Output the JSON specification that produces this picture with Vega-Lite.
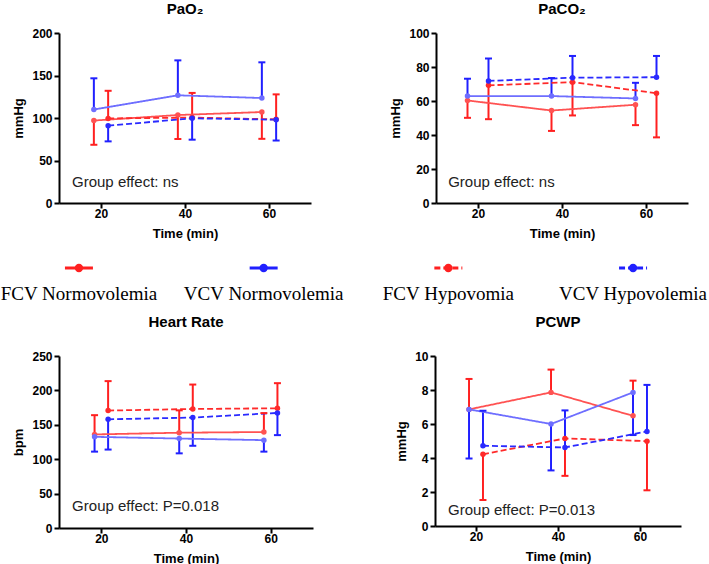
{
  "$schema": "https://vega.github.io/schema/vega-lite/v6.json",
  "padding": {"left": 0, "top": 2, "right": 0, "bottom": 0},
  "data": {"values": [
    {"panel": "PaO2", "group": "FCV Normovolemia", "t": 18.3, "mean": 97, "err": 68.5},
    {"panel": "PaO2", "group": "FCV Normovolemia", "t": 38.3, "mean": 103.5, "err": 75.3},
    {"panel": "PaO2", "group": "FCV Normovolemia", "t": 58.3, "mean": 107, "err": 75.5},
    {"panel": "PaO2", "group": "VCV Normovolemia", "t": 18.3, "mean": 110, "err": 146.7},
    {"panel": "PaO2", "group": "VCV Normovolemia", "t": 38.3, "mean": 126.7, "err": 167.8},
    {"panel": "PaO2", "group": "VCV Normovolemia", "t": 58.3, "mean": 123.5, "err": 165.5},
    {"panel": "PaO2", "group": "FCV Hypovomia", "t": 21.7, "mean": 99.5, "err": 132},
    {"panel": "PaO2", "group": "FCV Hypovomia", "t": 41.7, "mean": 100.5, "err": 129.5},
    {"panel": "PaO2", "group": "FCV Hypovomia", "t": 61.7, "mean": 98.4, "err": 127.8},
    {"panel": "PaO2", "group": "VCV Hypovolemia", "t": 21.7, "mean": 91, "err": 72.5},
    {"panel": "PaO2", "group": "VCV Hypovolemia", "t": 41.7, "mean": 99.6, "err": 74.5},
    {"panel": "PaO2", "group": "VCV Hypovolemia", "t": 61.7, "mean": 98, "err": 73.5},

    {"panel": "PaCO2", "group": "FCV Normovolemia", "t": 17.5, "mean": 60.3, "err": 50.1},
    {"panel": "PaCO2", "group": "FCV Normovolemia", "t": 37.5, "mean": 54.4, "err": 42.4},
    {"panel": "PaCO2", "group": "FCV Normovolemia", "t": 57.5, "mean": 57.8, "err": 45.8},
    {"panel": "PaCO2", "group": "VCV Normovolemia", "t": 17.5, "mean": 62.9, "err": 73.1},
    {"panel": "PaCO2", "group": "VCV Normovolemia", "t": 37.5, "mean": 62.9, "err": 73.5},
    {"panel": "PaCO2", "group": "VCV Normovolemia", "t": 57.5, "mean": 61.5, "err": 70.7},
    {"panel": "PaCO2", "group": "FCV Hypovomia", "t": 22.5, "mean": 69.2, "err": 49.3},
    {"panel": "PaCO2", "group": "FCV Hypovomia", "t": 42.5, "mean": 71.1, "err": 51.5},
    {"panel": "PaCO2", "group": "FCV Hypovomia", "t": 62.5, "mean": 64.6, "err": 38.6},
    {"panel": "PaCO2", "group": "VCV Hypovolemia", "t": 22.5, "mean": 71.8, "err": 85},
    {"panel": "PaCO2", "group": "VCV Hypovolemia", "t": 42.5, "mean": 73.7, "err": 86.5},
    {"panel": "PaCO2", "group": "VCV Hypovolemia", "t": 62.5, "mean": 74, "err": 86.5},

    {"panel": "HR", "group": "FCV Normovolemia", "t": 18.4, "mean": 136, "err": 164},
    {"panel": "HR", "group": "FCV Normovolemia", "t": 38.4, "mean": 138.5, "err": 171},
    {"panel": "HR", "group": "FCV Normovolemia", "t": 58.4, "mean": 139.5, "err": 167},
    {"panel": "HR", "group": "VCV Normovolemia", "t": 18.4, "mean": 132.5, "err": 111},
    {"panel": "HR", "group": "VCV Normovolemia", "t": 38.4, "mean": 130, "err": 108.5},
    {"panel": "HR", "group": "VCV Normovolemia", "t": 58.4, "mean": 127.7, "err": 111},
    {"panel": "HR", "group": "FCV Hypovomia", "t": 21.6, "mean": 170.7, "err": 213.5},
    {"panel": "HR", "group": "FCV Hypovomia", "t": 41.6, "mean": 173, "err": 208.5},
    {"panel": "HR", "group": "FCV Hypovomia", "t": 61.6, "mean": 174, "err": 210.5},
    {"panel": "HR", "group": "VCV Hypovolemia", "t": 21.6, "mean": 158, "err": 114},
    {"panel": "HR", "group": "VCV Hypovolemia", "t": 41.6, "mean": 160.5, "err": 119.5},
    {"panel": "HR", "group": "VCV Hypovolemia", "t": 61.6, "mean": 167.3, "err": 135},

    {"panel": "PCWP", "group": "FCV Normovolemia", "t": 18.3, "mean": 6.86, "err": 8.65},
    {"panel": "PCWP", "group": "FCV Normovolemia", "t": 38.3, "mean": 7.86, "err": 9.2},
    {"panel": "PCWP", "group": "FCV Normovolemia", "t": 58.3, "mean": 6.48, "err": 8.55},
    {"panel": "PCWP", "group": "VCV Normovolemia", "t": 18.3, "mean": 6.86, "err": 3.97},
    {"panel": "PCWP", "group": "VCV Normovolemia", "t": 38.3, "mean": 6.0, "err": 3.27},
    {"panel": "PCWP", "group": "VCV Normovolemia", "t": 58.3, "mean": 7.86, "err": 5.35},
    {"panel": "PCWP", "group": "FCV Hypovomia", "t": 21.7, "mean": 4.22, "err": 1.53},
    {"panel": "PCWP", "group": "FCV Hypovomia", "t": 41.7, "mean": 5.15, "err": 2.95},
    {"panel": "PCWP", "group": "FCV Hypovomia", "t": 61.7, "mean": 4.99, "err": 2.1},
    {"panel": "PCWP", "group": "VCV Hypovolemia", "t": 21.7, "mean": 4.72, "err": 6.78},
    {"panel": "PCWP", "group": "VCV Hypovolemia", "t": 41.7, "mean": 4.62, "err": 6.8},
    {"panel": "PCWP", "group": "VCV Hypovolemia", "t": 61.7, "mean": 5.56, "err": 8.3}
  ]},
  "spacing": 22,
  "vconcat": [
    {
      "bounds": "flush",
      "spacing": 125,
      "hconcat": [
        {
          "width": 252, "height": 170,
          "title": {"text": "PaO₂", "offset": 10},
          "layer": [
            {
              "transform": [{"filter": "datum.panel === 'PaO2'"}],
              "encoding": {
                "x": {"field": "t", "type": "quantitative", "scale": {"domain": [10, 70], "nice": false}, "axis": {"values": [20, 40, 60], "tickCount": 10, "title": "Time (min)"}},
                "y": {"field": "mean", "type": "quantitative", "scale": {"domain": [0, 200], "nice": false}, "axis": {"values": [0, 50, 100, 150, 200], "tickCount": 10, "title": "mmHg"}}
              },
              "layer": [
                {"mark": {"type": "rule", "strokeWidth": 2}, "encoding": {"y2": {"field": "err"}, "stroke": {"field": "group", "type": "nominal", "legend": null, "scale": {"domain": ["FCV Normovolemia", "VCV Normovolemia", "FCV Hypovomia", "VCV Hypovolemia"], "range": ["#FF2020", "#2020FF", "#FF2020", "#2020FF"]}}}},
                {"mark": {"type": "line", "strokeWidth": 1.8}, "encoding": {"color": {"field": "group", "type": "nominal", "legend": null, "scale": {"domain": ["FCV Normovolemia", "VCV Normovolemia", "FCV Hypovomia", "VCV Hypovolemia"], "range": ["#FF5252", "#6E6EFF", "#FF2A2A", "#2A2AFF"]}}, "strokeDash": {"field": "group", "type": "nominal", "legend": null, "scale": {"domain": ["FCV Normovolemia", "VCV Normovolemia", "FCV Hypovomia", "VCV Hypovolemia"], "range": [[1, 0], [1, 0], [6, 3], [6, 3]]}}}},
                {"mark": {"type": "tick", "orient": "horizontal", "size": 7, "thickness": 2, "opacity": 1}, "encoding": {"y": {"field": "err", "type": "quantitative", "scale": {"domain": [0, 200], "nice": false}, "axis": {"values": [0, 50, 100, 150, 200], "tickCount": 10, "title": "mmHg"}}, "fill": {"field": "group", "type": "nominal", "legend": null, "scale": {"domain": ["FCV Normovolemia", "VCV Normovolemia", "FCV Hypovomia", "VCV Hypovolemia"], "range": ["#FF2020", "#2020FF", "#FF2020", "#2020FF"]}}}},
                {"mark": {"type": "circle", "size": 30, "opacity": 1}, "encoding": {"color": {"field": "group", "type": "nominal", "legend": null, "scale": {"domain": ["FCV Normovolemia", "VCV Normovolemia", "FCV Hypovomia", "VCV Hypovolemia"], "range": ["#FF5252", "#6E6EFF", "#FF2A2A", "#2A2AFF"]}}}}
              ]
            },
            {
              "data": {"values": [{"note": "Group effect: ns"}]},
              "mark": {"type": "text", "align": "left", "baseline": "middle", "font": "Liberation Sans", "fontSize": 15, "color": "#222222"},
              "encoding": {"x": {"datum": 13.1, "type": "quantitative"}, "y": {"datum": 25, "type": "quantitative"}, "text": {"field": "note"}}
            }
          ]
        },
        {
          "width": 252, "height": 170,
          "title": {"text": "PaCO₂", "offset": 10},
          "layer": [
            {
              "transform": [{"filter": "datum.panel === 'PaCO2'"}],
              "encoding": {
                "x": {"field": "t", "type": "quantitative", "scale": {"domain": [10, 70], "nice": false}, "axis": {"values": [20, 40, 60], "tickCount": 10, "title": "Time (min)"}},
                "y": {"field": "mean", "type": "quantitative", "scale": {"domain": [0, 100], "nice": false}, "axis": {"values": [0, 20, 40, 60, 80, 100], "tickCount": 10, "title": "mmHg"}}
              },
              "layer": [
                {"mark": {"type": "rule", "strokeWidth": 2}, "encoding": {"y2": {"field": "err"}, "stroke": {"field": "group", "type": "nominal", "legend": null, "scale": {"domain": ["FCV Normovolemia", "VCV Normovolemia", "FCV Hypovomia", "VCV Hypovolemia"], "range": ["#FF2020", "#2020FF", "#FF2020", "#2020FF"]}}}},
                {"mark": {"type": "line", "strokeWidth": 1.8}, "encoding": {"color": {"field": "group", "type": "nominal", "legend": null, "scale": {"domain": ["FCV Normovolemia", "VCV Normovolemia", "FCV Hypovomia", "VCV Hypovolemia"], "range": ["#FF5252", "#6E6EFF", "#FF2A2A", "#2A2AFF"]}}, "strokeDash": {"field": "group", "type": "nominal", "legend": null, "scale": {"domain": ["FCV Normovolemia", "VCV Normovolemia", "FCV Hypovomia", "VCV Hypovolemia"], "range": [[1, 0], [1, 0], [6, 3], [6, 3]]}}}},
                {"mark": {"type": "tick", "orient": "horizontal", "size": 7, "thickness": 2, "opacity": 1}, "encoding": {"y": {"field": "err", "type": "quantitative", "scale": {"domain": [0, 100], "nice": false}, "axis": {"values": [0, 20, 40, 60, 80, 100], "tickCount": 10, "title": "mmHg"}}, "fill": {"field": "group", "type": "nominal", "legend": null, "scale": {"domain": ["FCV Normovolemia", "VCV Normovolemia", "FCV Hypovomia", "VCV Hypovolemia"], "range": ["#FF2020", "#2020FF", "#FF2020", "#2020FF"]}}}},
                {"mark": {"type": "circle", "size": 30, "opacity": 1}, "encoding": {"color": {"field": "group", "type": "nominal", "legend": null, "scale": {"domain": ["FCV Normovolemia", "VCV Normovolemia", "FCV Hypovomia", "VCV Hypovolemia"], "range": ["#FF5252", "#6E6EFF", "#FF2A2A", "#2A2AFF"]}}}}
              ]
            },
            {
              "data": {"values": [{"note": "Group effect: ns"}]},
              "mark": {"type": "text", "align": "left", "baseline": "middle", "font": "Liberation Sans", "fontSize": 15, "color": "#222222"},
              "encoding": {"x": {"datum": 12.9, "type": "quantitative"}, "y": {"datum": 12.4, "type": "quantitative"}, "text": {"field": "note"}}
            }
          ]
        }
      ]
    },
    {
      "spacing": 11,
      "vconcat": [
        {
          "width": 594, "height": 26,
          "data": {"values": [
            {"group": "FCV Normovolemia"},
            {"group": "VCV Normovolemia"},
            {"group": "FCV Hypovomia"},
            {"group": "VCV Hypovolemia"}
          ]},
          "encoding": {
            "x": {"field": "group", "type": "nominal", "scale": {"type": "point", "domain": ["FCV Normovolemia", "VCV Normovolemia", "FCV Hypovomia", "VCV Hypovolemia"], "padding": 0.108}, "axis": null}
          },
          "layer": [
            {"mark": {"type": "point", "shape": "M-1,0L1,0", "filled": false, "strokeWidth": 3, "size": 784, "opacity": 1},
             "encoding": {"y": {"datum": 1, "type": "quantitative", "scale": {"domain": [0, 1]}, "axis": null}, "stroke": {"field": "group", "type": "nominal", "legend": null, "scale": {"domain": ["FCV Normovolemia", "VCV Normovolemia", "FCV Hypovomia", "VCV Hypovolemia"], "range": ["#FF2020", "#2020FF", "#FF2020", "#2020FF"]}}, "strokeDash": {"field": "group", "type": "nominal", "legend": null, "scale": {"domain": ["FCV Normovolemia", "VCV Normovolemia", "FCV Hypovomia", "VCV Hypovolemia"], "range": [[1, 0], [1, 0], [6, 3], [6, 3]]}}}},
            {"mark": {"type": "circle", "size": 70, "opacity": 1},
             "encoding": {"y": {"datum": 1, "type": "quantitative"}, "fill": {"field": "group", "type": "nominal", "legend": null, "scale": {"domain": ["FCV Normovolemia", "VCV Normovolemia", "FCV Hypovomia", "VCV Hypovolemia"], "range": ["#FF2020", "#2020FF", "#FF2020", "#2020FF"]}}}},
            {"mark": {"type": "text", "font": "Liberation Serif", "fontSize": 19, "baseline": "middle", "align": "center", "color": "black"},
             "encoding": {"y": {"datum": 0, "type": "quantitative"}, "text": {"field": "group"}}}
          ]
        },
        {
          "bounds": "flush",
          "spacing": 122,
          "hconcat": [
            {
              "width": 254, "height": 172,
              "title": {"text": "Heart Rate", "offset": 20},
              "layer": [
                {
                  "transform": [{"filter": "datum.panel === 'HR'"}],
                  "encoding": {
                    "x": {"field": "t", "type": "quantitative", "scale": {"domain": [10, 70], "nice": false}, "axis": {"values": [20, 40, 60], "tickCount": 10, "title": "Time (min)"}},
                    "y": {"field": "mean", "type": "quantitative", "scale": {"domain": [0, 250], "nice": false}, "axis": {"values": [0, 50, 100, 150, 200, 250], "tickCount": 10, "title": "bpm"}}
                  },
                  "layer": [
                    {"mark": {"type": "rule", "strokeWidth": 2}, "encoding": {"y2": {"field": "err"}, "stroke": {"field": "group", "type": "nominal", "legend": null, "scale": {"domain": ["FCV Normovolemia", "VCV Normovolemia", "FCV Hypovomia", "VCV Hypovolemia"], "range": ["#FF2020", "#2020FF", "#FF2020", "#2020FF"]}}}},
                    {"mark": {"type": "line", "strokeWidth": 1.8}, "encoding": {"color": {"field": "group", "type": "nominal", "legend": null, "scale": {"domain": ["FCV Normovolemia", "VCV Normovolemia", "FCV Hypovomia", "VCV Hypovolemia"], "range": ["#FF5252", "#6E6EFF", "#FF2A2A", "#2A2AFF"]}}, "strokeDash": {"field": "group", "type": "nominal", "legend": null, "scale": {"domain": ["FCV Normovolemia", "VCV Normovolemia", "FCV Hypovomia", "VCV Hypovolemia"], "range": [[1, 0], [1, 0], [6, 3], [6, 3]]}}}},
                    {"mark": {"type": "tick", "orient": "horizontal", "size": 7, "thickness": 2, "opacity": 1}, "encoding": {"y": {"field": "err", "type": "quantitative", "scale": {"domain": [0, 250], "nice": false}, "axis": {"values": [0, 50, 100, 150, 200, 250], "tickCount": 10, "title": "bpm"}}, "fill": {"field": "group", "type": "nominal", "legend": null, "scale": {"domain": ["FCV Normovolemia", "VCV Normovolemia", "FCV Hypovomia", "VCV Hypovolemia"], "range": ["#FF2020", "#2020FF", "#FF2020", "#2020FF"]}}}},
                    {"mark": {"type": "circle", "size": 30, "opacity": 1}, "encoding": {"color": {"field": "group", "type": "nominal", "legend": null, "scale": {"domain": ["FCV Normovolemia", "VCV Normovolemia", "FCV Hypovomia", "VCV Hypovolemia"], "range": ["#FF5252", "#6E6EFF", "#FF2A2A", "#2A2AFF"]}}}}
                  ]
                },
                {
                  "data": {"values": [{"note": "Group effect: P=0.018"}]},
                  "mark": {"type": "text", "align": "left", "baseline": "middle", "font": "Liberation Sans", "fontSize": 15, "color": "#222222"},
                  "encoding": {"x": {"datum": 13.1, "type": "quantitative"}, "y": {"datum": 32, "type": "quantitative"}, "text": {"field": "note"}}
                }
              ]
            },
            {
              "width": 246, "height": 170,
              "title": {"text": "PCWP", "offset": 20},
              "layer": [
                {
                  "transform": [{"filter": "datum.panel === 'PCWP'"}],
                  "encoding": {
                    "x": {"field": "t", "type": "quantitative", "scale": {"domain": [10, 70], "nice": false}, "axis": {"values": [20, 40, 60], "tickCount": 10, "title": "Time (min)"}},
                    "y": {"field": "mean", "type": "quantitative", "scale": {"domain": [0, 10], "nice": false}, "axis": {"values": [0, 2, 4, 6, 8, 10], "tickCount": 10, "title": "mmHg"}}
                  },
                  "layer": [
                    {"mark": {"type": "rule", "strokeWidth": 2}, "encoding": {"y2": {"field": "err"}, "stroke": {"field": "group", "type": "nominal", "legend": null, "scale": {"domain": ["FCV Normovolemia", "VCV Normovolemia", "FCV Hypovomia", "VCV Hypovolemia"], "range": ["#FF2020", "#2020FF", "#FF2020", "#2020FF"]}}}},
                    {"mark": {"type": "line", "strokeWidth": 1.8}, "encoding": {"color": {"field": "group", "type": "nominal", "legend": null, "scale": {"domain": ["FCV Normovolemia", "VCV Normovolemia", "FCV Hypovomia", "VCV Hypovolemia"], "range": ["#FF5252", "#6E6EFF", "#FF2A2A", "#2A2AFF"]}}, "strokeDash": {"field": "group", "type": "nominal", "legend": null, "scale": {"domain": ["FCV Normovolemia", "VCV Normovolemia", "FCV Hypovomia", "VCV Hypovolemia"], "range": [[1, 0], [1, 0], [6, 3], [6, 3]]}}}},
                    {"mark": {"type": "tick", "orient": "horizontal", "size": 7, "thickness": 2, "opacity": 1}, "encoding": {"y": {"field": "err", "type": "quantitative", "scale": {"domain": [0, 10], "nice": false}, "axis": {"values": [0, 2, 4, 6, 8, 10], "tickCount": 10, "title": "mmHg"}}, "fill": {"field": "group", "type": "nominal", "legend": null, "scale": {"domain": ["FCV Normovolemia", "VCV Normovolemia", "FCV Hypovomia", "VCV Hypovolemia"], "range": ["#FF2020", "#2020FF", "#FF2020", "#2020FF"]}}}},
                    {"mark": {"type": "circle", "size": 30, "opacity": 1}, "encoding": {"color": {"field": "group", "type": "nominal", "legend": null, "scale": {"domain": ["FCV Normovolemia", "VCV Normovolemia", "FCV Hypovomia", "VCV Hypovolemia"], "range": ["#FF5252", "#6E6EFF", "#FF2A2A", "#2A2AFF"]}}}}
                  ]
                },
                {
                  "data": {"values": [{"note": "Group effect: P=0.013"}]},
                  "mark": {"type": "text", "align": "left", "baseline": "middle", "font": "Liberation Sans", "fontSize": 15, "color": "#222222"},
                  "encoding": {"x": {"datum": 13.2, "type": "quantitative"}, "y": {"datum": 0.94, "type": "quantitative"}, "text": {"field": "note"}}
                }
              ]
            }
          ]
        }
      ]
    }
  ],
  "config": {
    "view": {"stroke": null},
    "axis": {
      "domainColor": "black", "domainWidth": 2, "tickColor": "black", "tickWidth": 2, "tickSize": 5,
      "labelFont": "Liberation Sans", "labelFontWeight": "bold", "labelFontSize": 12, "labelColor": "black",
      "titleFont": "Liberation Sans", "titleFontWeight": "bold", "titleFontSize": 13, "titleColor": "black",
      "grid": false, "labelPadding": 2, "labelOverlap": false
    },
    "axisX": {"titlePadding": 8, "labelPadding": 0},
    "axisY": {"titlePadding": 6},
    "title": {"font": "Liberation Sans", "fontWeight": "bold", "fontSize": 15, "color": "black", "anchor": "middle"}
  }
}
